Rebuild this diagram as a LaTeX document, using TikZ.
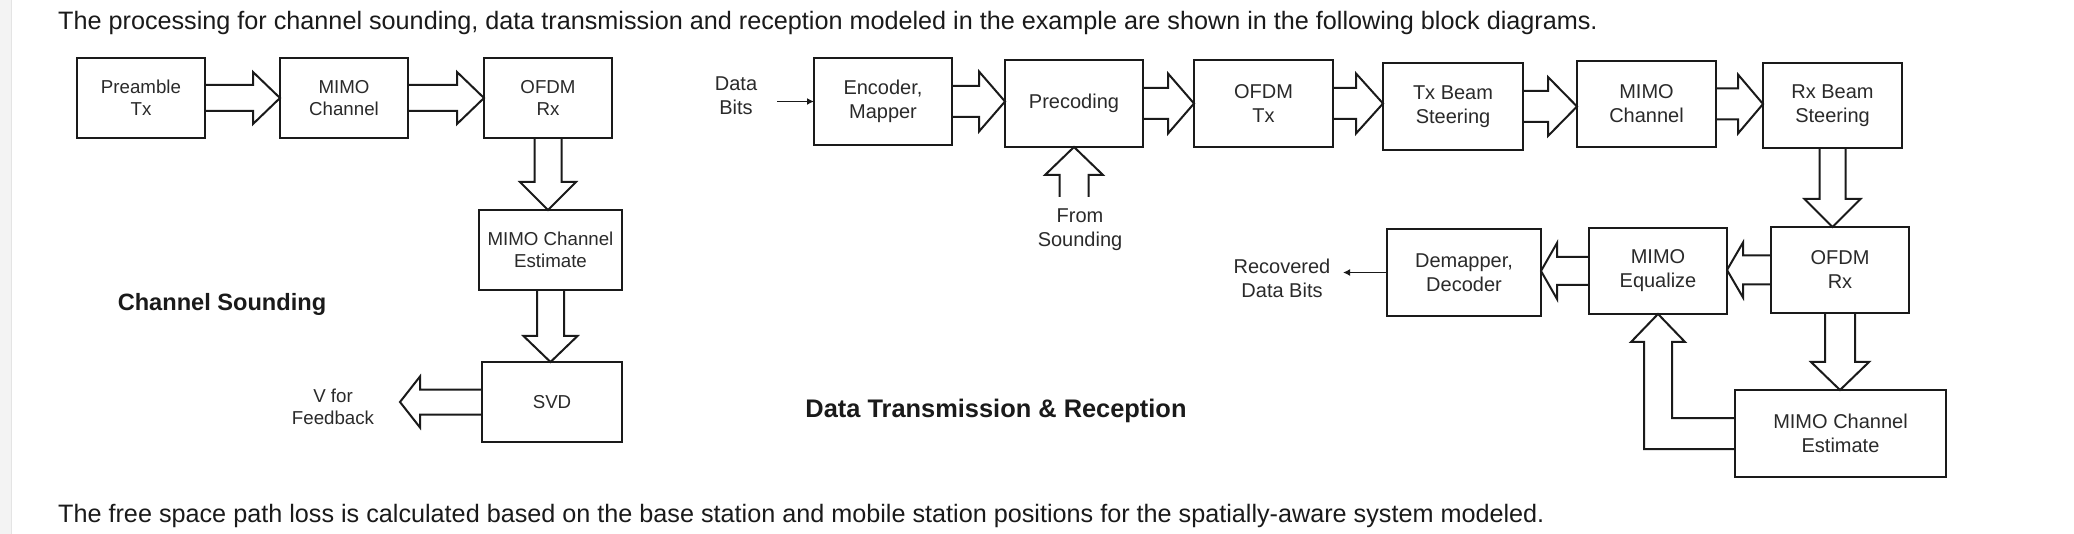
\documentclass[tikz,border=0pt]{standalone}
\usepackage{fontspec}
\setmainfont{Liberation Sans}
\usetikzlibrary{calc,arrows.meta}
\definecolor{ink}{HTML}{1A1A1A}
\definecolor{lab}{HTML}{2A2A2A}
\definecolor{strip}{HTML}{F3F3F3}
\definecolor{stripline}{HTML}{E4E4E4}
\tikzset{
  box/.style={draw=ink, line width=2.6pt, fill=white, align=center, inner sep=0pt, outer sep=0pt, text=lab, anchor=north west},
  boxL/.style={box, font=\fontsize{18.7}{22}\selectfont},
  boxR/.style={box, font=\fontsize{20}{24}\selectfont},
  blk/.style={draw=ink, line width=2pt, line join=miter},
  lblL/.style={align=center, text=lab, inner sep=0pt, font=\fontsize{18.7}{22}\selectfont},
  lblR/.style={align=center, text=lab, inner sep=0pt, font=\fontsize{20}{24}\selectfont},
  para/.style={anchor=base west, inner sep=0pt, text=ink, font=\fontsize{25.2}{30}\selectfont},
  ttl/.style={inner sep=0pt, text=ink, font=\bfseries},
  thinarr/.style={draw=ink, line width=1.7pt, -{Latex[length=7pt,width=7pt]}}
}
% hollow block arrows: #1 start, #2 end, #3 half shaft, #4 half head, #5 head length
\newcommand{\bArrR}[5]{\draw[blk] let \p1=(#1), \p2=(#2) in
  ({\x1},{\y1+#3pt}) -- ({\x2-#5pt},{\y1+#3pt}) -- ({\x2-#5pt},{\y1+#4pt}) -- ({\x2},{\y1})
  -- ({\x2-#5pt},{\y1-#4pt}) -- ({\x2-#5pt},{\y1-#3pt}) -- ({\x1},{\y1-#3pt});}
\newcommand{\bArrL}[5]{\draw[blk] let \p1=(#1), \p2=(#2) in
  ({\x1},{\y1+#3pt}) -- ({\x2+#5pt},{\y1+#3pt}) -- ({\x2+#5pt},{\y1+#4pt}) -- ({\x2},{\y1})
  -- ({\x2+#5pt},{\y1-#4pt}) -- ({\x2+#5pt},{\y1-#3pt}) -- ({\x1},{\y1-#3pt});}
\newcommand{\bArrD}[5]{\draw[blk] let \p1=(#1), \p2=(#2) in
  ({\x1+#3pt},{\y1}) -- ({\x1+#3pt},{\y2+#5pt}) -- ({\x1+#4pt},{\y2+#5pt}) -- ({\x1},{\y2})
  -- ({\x1-#4pt},{\y2+#5pt}) -- ({\x1-#3pt},{\y2+#5pt}) -- ({\x1-#3pt},{\y1});}
\newcommand{\bArrU}[5]{\draw[blk] let \p1=(#1), \p2=(#2) in
  ({\x1+#3pt},{\y1}) -- ({\x1+#3pt},{\y2-#5pt}) -- ({\x1+#4pt},{\y2-#5pt}) -- ({\x1},{\y2})
  -- ({\x1-#4pt},{\y2-#5pt}) -- ({\x1-#3pt},{\y2-#5pt}) -- ({\x1-#3pt},{\y1});}
\begin{document}
\begin{tikzpicture}[x=1pt,y=-1pt]
\fill[white] (0,0) rectangle (2074,534);
\useasboundingbox (0,0) rectangle (2074,534);
\fill[strip] (0,0) rectangle (11,534);
\draw[stripline, line width=1pt] (11.5,0) -- (11.5,534);

% paragraph text
\node[para] (top) at (58,30) {The processing for channel sounding, data transmission and reception modeled in the example are shown in the following block diagrams.};
\node[para] (bot) at (58,522) {The free space path loss is calculated based on the base station and mobile station positions for the spatially-aware system modeled.};

% ---------- Channel sounding ----------
\node[boxL, minimum width=128, minimum height=80] (pre) at (77,58) {Preamble\\Tx};
\node[boxL, minimum width=128, minimum height=80] (mch1) at (280,58) {MIMO\\Channel};
\node[boxL, minimum width=128, minimum height=80] (ofdm1) at (484,58) {OFDM\\Rx};
\node[boxL, minimum width=143, minimum height=80] (est1) at (479,210) {MIMO Channel\\Estimate};
\node[boxL, minimum width=140, minimum height=80] (svd) at (482,362) {SVD};
\node[ttl, font=\bfseries\fontsize{23.6}{28}\selectfont] (cs) at (222,304) {Channel Sounding};
\coordinate (fb) at (400,402);
\node[lblL] (fbl) at (333,407) {V for\\Feedback};

\bArrR{pre.east}{mch1.west}{13}{26}{27}
\bArrR{mch1.east}{ofdm1.west}{13}{26}{27}
\bArrD{ofdm1.south}{est1.north}{13.5}{28}{28}
\bArrD{est1.south}{svd.north}{13.5}{27}{26}
\bArrL{svd.west}{fb}{12.5}{25.5}{20}

% ---------- Data transmission & reception ----------
\node[boxR, minimum width=138, minimum height=87] (enc) at (814,58) {Encoder,\\Mapper};
\node[boxR, minimum width=138, minimum height=87] (prec) at (1005,60) {Precoding};
\node[boxR, minimum width=139, minimum height=87] (otx) at (1194,60) {OFDM\\Tx};
\node[boxR, minimum width=140, minimum height=87] (txbs) at (1383,63) {Tx Beam\\Steering};
\node[boxR, minimum width=139, minimum height=86] (mch2) at (1577,61) {MIMO\\Channel};
\node[boxR, minimum width=139, minimum height=85] (rxbs) at (1763,63) {Rx Beam\\Steering};
\node[boxR, minimum width=138, minimum height=86] (ofdm2) at (1771,227) {OFDM\\Rx};
\node[boxR, minimum width=138, minimum height=86] (equ) at (1589,228) {MIMO\\Equalize};
\node[boxR, minimum width=154, minimum height=87] (dem) at (1387,229) {Demapper,\\Decoder};
\node[boxR, minimum width=211, minimum height=87] (est2) at (1735,390) {MIMO Channel\\Estimate};

\node[lblR] (dbl) at (736,96) {Data\\Bits};
\coordinate (db) at (777,101.5);
\node[lblR] (fsl) at (1080,230) {From\\Sounding};
\coordinate (fs) at (1074,197);
\node[lblR] (rbl) at (1282,278) {Recovered\\Data Bits};
\coordinate (rb) at (1343,272.5);
\node[ttl, font=\bfseries\fontsize{25.4}{30}\selectfont] (dtr) at (996,411) {Data Transmission \& Reception};

\draw[thinarr] (db) -- (enc.west);
\draw[thinarr] (dem.west) -- (rb);

\bArrR{enc.east}{prec.west}{15.5}{30}{26}
\bArrR{prec.east}{otx.west}{15.5}{30}{26}
\bArrR{otx.east}{txbs.west}{15.5}{30}{27}
\bArrR{txbs.east}{mch2.west}{15.5}{29.5}{29}
\bArrR{mch2.east}{rxbs.west}{15.5}{29.5}{25}
\bArrU{fs}{prec.south}{14.5}{29}{28}
\bArrD{rxbs.south}{ofdm2.north}{13}{28}{28}
\bArrL{ofdm2.west}{equ.east}{14.5}{27.5}{16}
\bArrL{equ.west}{dem.east}{14}{28}{16}
\bArrD{ofdm2.south}{est2.north}{15}{29}{28}
% elbow arrow from estimate up to equalizer
\draw[blk] let \p1=(est2.west), \p2=(equ.south) in
  ({\x1},{\y1+15.5pt}) -- ({\x2+14pt},{\y1+15.5pt}) -- ({\x2+14pt},{\y2-28pt}) -- ({\x2+27pt},{\y2-28pt})
  -- ({\x2},{\y2}) -- ({\x2-27pt},{\y2-28pt}) -- ({\x2-14pt},{\y2-28pt}) -- ({\x2-14pt},{\y1-15.5pt})
  -- ({\x1},{\y1-15.5pt});
\end{tikzpicture}
\end{document}
